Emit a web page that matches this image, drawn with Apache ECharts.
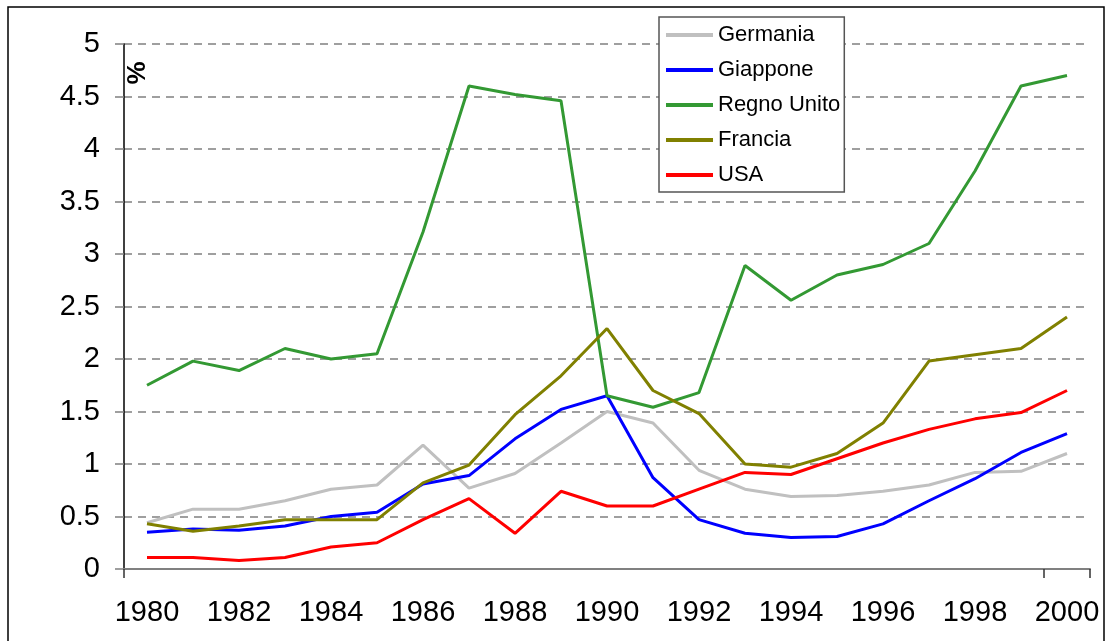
<!DOCTYPE html>
<html>
<head>
<meta charset="utf-8">
<script src="https://cdn.jsdelivr.net/npm/echarts@6/dist/echarts.min.js"></script>
<style>
  html, body { margin: 0; padding: 0; background: #fff; }
  #chart { width: 1112px; height: 641px; }
</style>
</head>
<body>
<div id="chart"></div>
<script>
// anni sull'asse x
const years = ['1980', '1981', '1982', '1983', '1984', '1985', '1986', '1987', '1988', '1989', '1990',
  '1991', '1992', '1993', '1994', '1995', '1996', '1997', '1998', '1999', '2000'];

// valori in %
const germania = [0.44, 0.57, 0.57, 0.65, 0.76, 0.80, 1.18, 0.77, 0.91, 1.20, 1.50,
  1.39, 0.94, 0.76, 0.69, 0.70, 0.74, 0.80, 0.92, 0.93, 1.10];
const giappone = [0.35, 0.38, 0.37, 0.41, 0.50, 0.54, 0.81, 0.89, 1.24, 1.52, 1.65,
  0.87, 0.47, 0.34, 0.30, 0.31, 0.43, 0.65, 0.86, 1.11, 1.29];
const regnoUnito = [1.75, 1.98, 1.89, 2.10, 2.00, 2.05, 3.21, 4.60, 4.52, 4.46, 1.65,
  1.54, 1.68, 2.89, 2.56, 2.80, 2.90, 3.10, 3.79, 4.60, 4.70];
const francia = [0.43, 0.36, 0.41, 0.47, 0.47, 0.47, 0.82, 0.99, 1.47, 1.84, 2.29,
  1.70, 1.48, 1.00, 0.97, 1.10, 1.39, 1.98, 2.04, 2.10, 2.40];
const usa = [0.11, 0.11, 0.08, 0.11, 0.21, 0.25, 0.47, 0.67, 0.34, 0.74, 0.60,
  0.60, 0.76, 0.92, 0.90, 1.05, 1.20, 1.33, 1.43, 1.49, 1.70];

const seriesNames = ['Germania', 'Giappone', 'Regno Unito', 'Francia', 'USA'];
const seriesColors = ['#c0c0c0', '#0000ff', '#339933', '#808000', '#ff0000'];
const seriesData = [germania, giappone, regnoUnito, francia, usa];

const font = "'Liberation Sans', Arial, sans-serif";

const chart = echarts.init(document.getElementById('chart'));

const option = {
  animation: false,
  backgroundColor: '#fff',
  textStyle: { fontFamily: font },
  grid: { left: 124, right: 22, top: 44, bottom: 72 },
  legend: {
    data: seriesNames,
    orient: 'vertical',
    left: 659,
    top: 17,
    backgroundColor: '#fff',
    borderColor: '#555',
    borderWidth: 1.5,
    borderRadius: 0,
    padding: [7, 4, 6, 7],
    itemGap: 13,
    itemWidth: 47,
    itemHeight: 4,
    icon: 'rect',
    textStyle: { fontSize: 22, color: '#000', fontFamily: font, lineHeight: 22 }
  },
  xAxis: {
    type: 'category',
    data: years,
    boundaryGap: true,
    axisLine: { lineStyle: { color: '#808080', width: 2 } },
    axisTick: { show: true, interval: 19, length: 9, lineStyle: { color: '#333', width: 1.5 } },
    axisLabel: { interval: 1, fontSize: 29, color: '#000', margin: 29, fontFamily: font },
    splitLine: { show: false }
  },
  yAxis: {
    type: 'value',
    min: 0,
    max: 5,
    interval: 0.5,
    axisLine: { show: true, lineStyle: { color: '#000', width: 1.5 } },
    axisTick: { show: true, length: 9, lineStyle: { color: '#808080', width: 1.5 } },
    axisLabel: { fontSize: 29, color: '#000', margin: 24, fontFamily: font },
    splitLine: { show: true, lineStyle: { color: '#808080', width: 1.5, type: [8, 6] } }
  },
  graphic: [
    {
      type: 'rect',
      z: -10,
      shape: { x: 8, y: 7, width: 1096, height: 700 },
      style: { fill: 'none', stroke: '#000', lineWidth: 1.5 }
    },
    {
      type: 'text',
      x: 138,
      y: 73,
      rotation: Math.PI / 2,
      style: {
        text: '%',
        fontSize: 26,
        fontWeight: 'bold',
        fontFamily: font,
        fill: '#000',
        textAlign: 'center',
        textVerticalAlign: 'middle'
      }
    }
  ],
  series: seriesNames.map((name, i) => ({
    name: name,
    type: 'line',
    data: seriesData[i],
    symbol: 'none',
    color: seriesColors[i],
    lineStyle: { color: seriesColors[i], width: 3 }
  }))
};

chart.setOption(option);
</script>
</body>
</html>
